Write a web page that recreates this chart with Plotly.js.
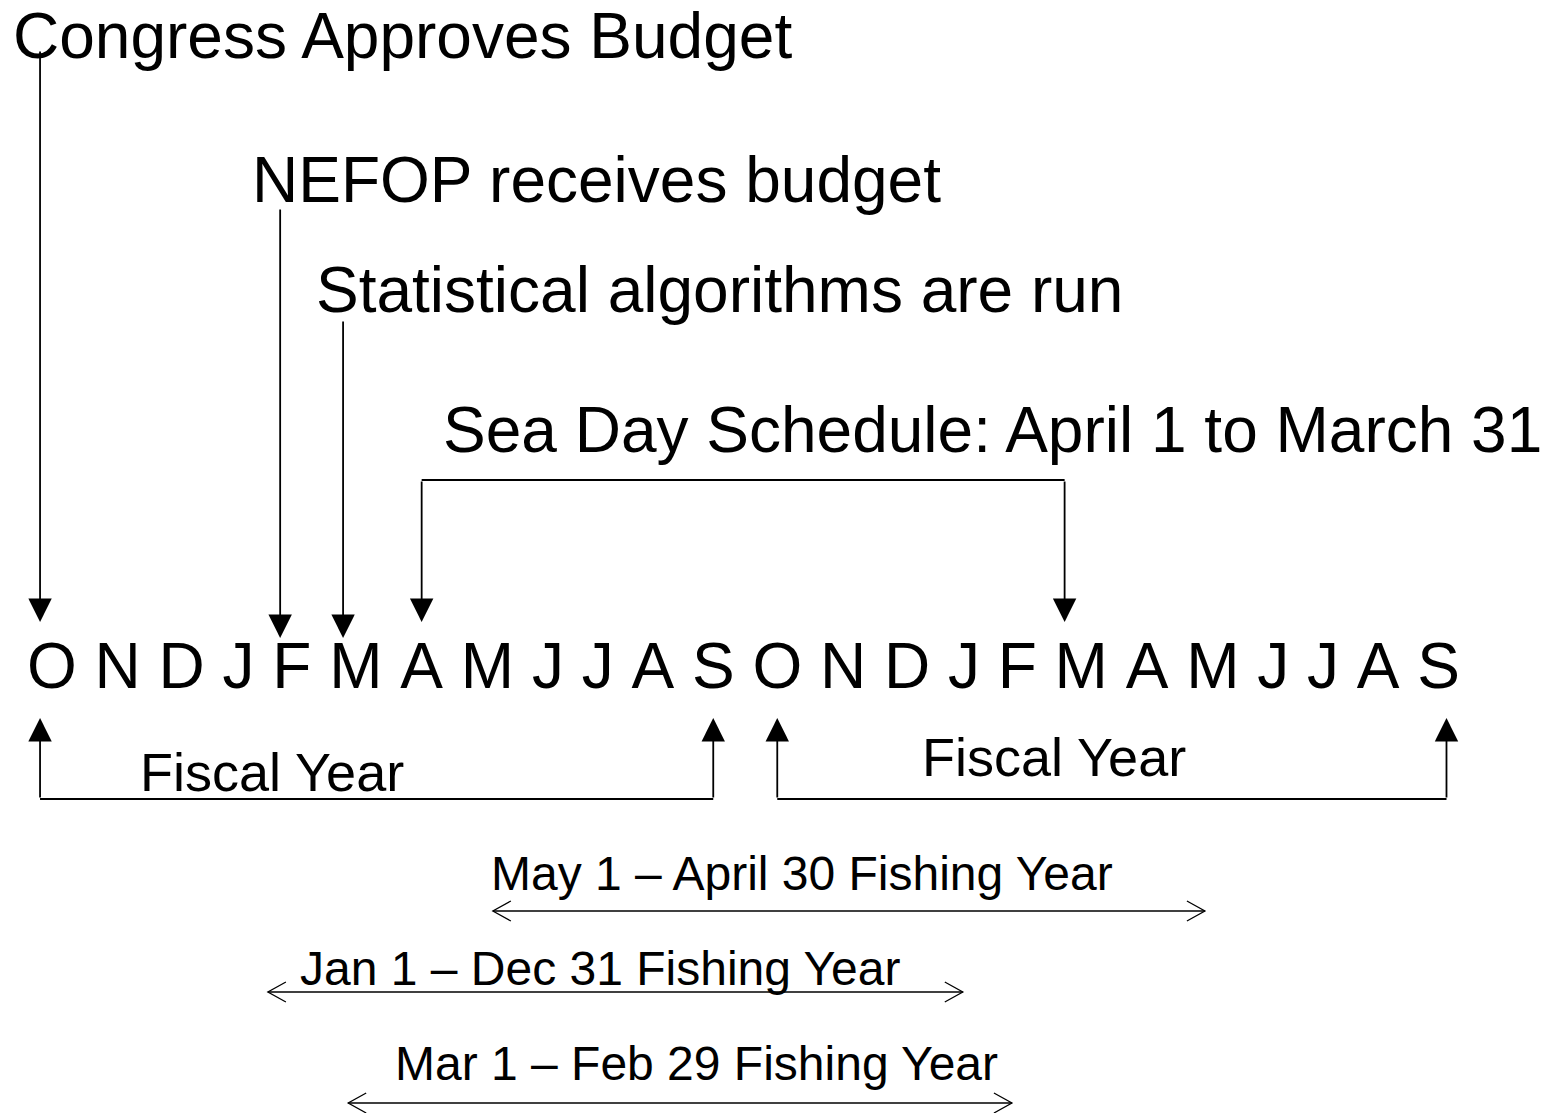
<!DOCTYPE html>
<html>
<head>
<meta charset="utf-8">
<script src="https://cdn.plot.ly/plotly-3.0.1.min.js"></script>
<style>
  html, body { margin: 0; padding: 0; background: #ffffff; }
  #chart { width: 1552px; height: 1113px; }
</style>
</head>
<body>
<div id="chart"></div>
<script>
// month row, two fiscal years Oct..Sep
const months = ["O","N","D","J","F","M","A","M","J","J","A","S",
                "O","N","D","J","F","M","A","M","J","J","A","S"];

// events pointing down onto the row (position in month units)
const eventLabels = ["Congress Approves Budget", "NEFOP receives budget", "Statistical algorithms are run"];
const eventMonths = [-0.18, 3.78, 4.8];

const seaDayLabel = "Sea Day Schedule: April 1 to March 31";
const seaDaySpan = [6.0, 16.74];

const fiscalLabel = "Fiscal Year";
const fiscalStarts = [-0.18, 12.0];
const fiscalEnds = [11.0, 23.13];

const fishingLabels = ["May 1 – April 30 Fishing Year", "Jan 1 – Dec 31 Fishing Year", "Mar 1 – Feb 29 Fishing Year"];
const fishingStarts = [7.09, 3.55, 4.88];
const fishingEnds = [18.88, 14.98, 15.9];

// ---- layout settings (page pixels) ----
const W = 1552, H = 1113;
const FONT = "Liberation Sans, Arial, Helvetica, sans-serif";
const BIG = 64, MID = 54, SMALL = 48;
const rowLeft = 27, rowY = 672;

const eventTextX = [11, 250, 314];
const eventTextY = [36, 180, 290];
const eventLineTop = [50, 208, 320];
const eventTip = [622, 638, 638];

const seaTextX = 441, seaTextY = 430, seaBarY = 480, seaTip = 622;

const fiscalTextX = [138, 920], fiscalTextY = [772, 757];
const fiscalBarY = 799, fiscalTip = 718;

const fishingTextX = [489, 298, 393];
const fishingTextY = [873, 968, 1063];
const fishingArrowY = [911, 992, 1103];
const chevLen = 18, chevHalf = 10;

function monthCenters() {
  const ctx = document.createElement("canvas").getContext("2d");
  ctx.font = BIG + "px 'Liberation Sans'";
  const space = ctx.measureText(" ").width;
  let x = rowLeft;
  return months.map((m) => {
    const w = ctx.measureText(m).width;
    const c = x + w / 2;
    x += w + space;
    return c;
  });
}

const centers = monthCenters();

function monthX(v) {
  const i = Math.max(0, Math.min(centers.length - 2, Math.floor(v)));
  return centers[i] + (v - i) * (centers[i + 1] - centers[i]);
}

function label(x, y, text, size) {
  return {
    x, y, xref: "x", yref: "y", text, showarrow: false,
    xanchor: "left", yanchor: "middle",
    font: { family: FONT, size, color: "#000000" }
  };
}

function downArrow(x, yTail, yTip) {
  return {
    x, y: yTip, ax: x, ay: yTail, xref: "x", yref: "y", axref: "x", ayref: "y",
    text: "", showarrow: true, arrowhead: 2, arrowsize: 2.6, arrowwidth: 1.8,
    arrowcolor: "#000000", standoff: 0
  };
}

const annotations = [];
const shapes = [];

function hline(x0, x1, y, width) {
  shapes.push({ type: "line", xref: "x", yref: "y", x0, x1, y0: y, y1: y,
    line: { color: "#000000", width } });
}

// thin double-ended arrow with open chevron heads
function spanArrow(x0, x1, y) {
  hline(x0, x1, y, 1.3);
  const path =
    `M${x0 + chevLen},${y - chevHalf} L${x0},${y} L${x0 + chevLen},${y + chevHalf} ` +
    `M${x1 - chevLen},${y - chevHalf} L${x1},${y} L${x1 - chevLen},${y + chevHalf}`;
  shapes.push({ type: "path", xref: "x", yref: "y", path,
    line: { color: "#000000", width: 1.3 } });
}

eventLabels.forEach((t, i) => {
  annotations.push(label(eventTextX[i], eventTextY[i], t, BIG));
  annotations.push(downArrow(monthX(eventMonths[i]), eventLineTop[i], eventTip[i]));
});

annotations.push(label(seaTextX, seaTextY, seaDayLabel, BIG));
const seaX = seaDaySpan.map(monthX);
hline(seaX[0], seaX[1], seaBarY, 1.8);
seaX.forEach((x) => annotations.push(downArrow(x, seaBarY, seaTip)));

fiscalStarts.forEach((s, i) => {
  const x0 = monthX(s), x1 = monthX(fiscalEnds[i]);
  annotations.push(label(fiscalTextX[i], fiscalTextY[i], fiscalLabel, MID));
  hline(x0, x1, fiscalBarY, 1.8);
  annotations.push(downArrow(x0, fiscalBarY, fiscalTip));
  annotations.push(downArrow(x1, fiscalBarY, fiscalTip));
});

fishingLabels.forEach((t, i) => {
  annotations.push(label(fishingTextX[i], fishingTextY[i], t, SMALL));
  spanArrow(monthX(fishingStarts[i]), monthX(fishingEnds[i]), fishingArrowY[i]);
});

const monthTrace = {
  type: "scatter",
  mode: "text",
  x: centers,
  y: months.map(() => rowY),
  text: months,
  textposition: "middle center",
  textfont: { family: FONT, size: BIG, color: "#000000" },
  hoverinfo: "skip",
  showlegend: false
};

const layout = {
  width: W,
  height: H,
  margin: { l: 0, r: 0, t: 0, b: 0 },
  paper_bgcolor: "#ffffff",
  plot_bgcolor: "#ffffff",
  showlegend: false,
  hovermode: false,
  xaxis: { range: [0, W], visible: false, fixedrange: true },
  yaxis: { range: [H, 0], visible: false, fixedrange: true },
  annotations,
  shapes
};

Plotly.newPlot("chart", [monthTrace], layout, { displayModeBar: false, staticPlot: true });
</script>
</body>
</html>
